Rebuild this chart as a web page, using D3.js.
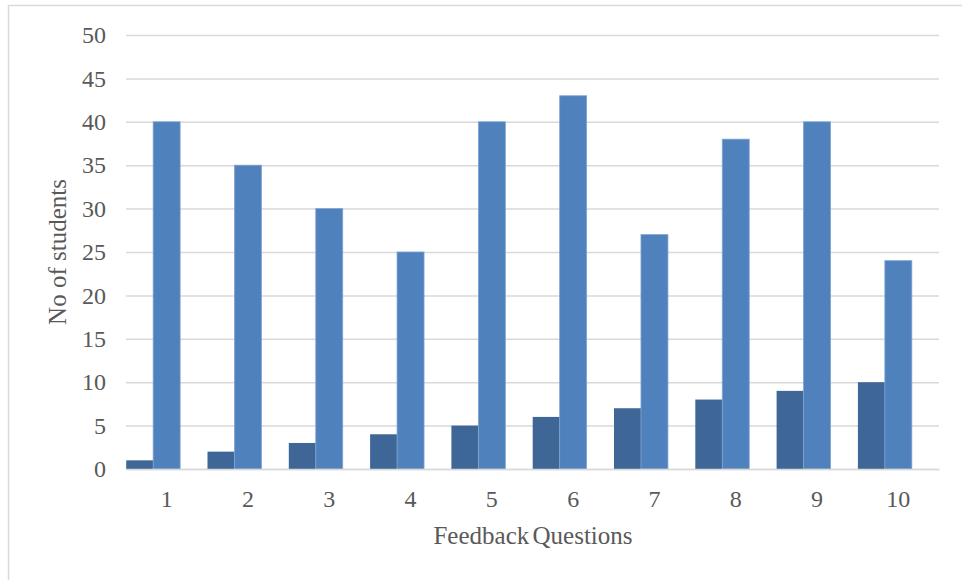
<!DOCTYPE html>
<html>
<head>
<meta charset="utf-8">
<script src="https://cdn.jsdelivr.net/npm/d3@7"></script>
<style>
  html, body { margin: 0; padding: 0; background: #fff; }
  svg { display: block; }
  text { font-family: "Liberation Serif", "DejaVu Serif", serif; fill: #595959; }
</style>
</head>
<body>
<svg id="chart" width="962" height="580"></svg>
<script>
// ---- data ----
const categories = ["1", "2", "3", "4", "5", "6", "7", "8", "9", "10"];
const seriesA = [1, 2, 3, 4, 5, 6, 7, 8, 9, 10];
const seriesB = [40, 35, 30, 25, 40, 43, 27, 38, 40, 24];
const yTicks = [0, 5, 10, 15, 20, 25, 30, 35, 40, 45, 50];
const xTitle = "Feedback Questions";
const yTitle = "No of students";

const svg = d3.select("#chart");
const W = 962, H = 580;
const m = { left: 126, right: 23, top: 35, bottom: 111 };

// chart border
svg.append("rect")
  .attr("x", 8.5).attr("y", 5.5)
  .attr("width", W + 10).attr("height", H + 10)
  .attr("fill", "#fff").attr("stroke", "#d9d9d9").attr("stroke-width", 1.5);

const x = d3.scaleBand().domain(categories).range([m.left, W - m.right]).paddingInner(0.005).paddingOuter(0.0025);
const sub = d3.scaleBand().domain(["a", "b", "c"]).range([0, x.bandwidth()]);
const y = d3.scaleLinear().domain([0, 50]).range([H - m.bottom, m.top]);

const fontTick = 24, fontTitle = 25;

// gridlines
const yAxis = d3.axisLeft(y).tickValues(yTicks).tickSize(-(W - m.right - m.left)).tickPadding(20);
const gy = svg.append("g").attr("transform", `translate(${m.left},0)`).call(yAxis);
gy.select(".domain").remove();
gy.selectAll(".tick line").attr("stroke", "#d9d9d9").attr("stroke-width", 1.5);
gy.selectAll(".tick text").attr("font-size", fontTick).attr("fill", "#595959")
  .style("font-family", '"Liberation Serif", serif');

// bars
const g = svg.append("g");
g.selectAll("rect.a").data(seriesA).join("rect")
  .attr("class", "a")
  .attr("x", (d, i) => x(categories[i]) + sub("a"))
  .attr("width", sub.bandwidth())
  .attr("y", d => y(d))
  .attr("height", d => y(0) - y(d))
  .attr("fill", "#3e6798");
g.selectAll("rect.b").data(seriesB).join("rect")
  .attr("class", "b")
  .attr("x", (d, i) => x(categories[i]) + sub("b"))
  .attr("width", sub.bandwidth())
  .attr("y", d => y(d))
  .attr("height", d => y(0) - y(d))
  .attr("fill", "#4f81bd")
  .attr("stroke", "#7ea3d2").attr("stroke-width", 0.8);

// x axis
const xAxis = d3.axisBottom(x).tickSize(0).tickPadding(21);
const gx = svg.append("g").attr("transform", `translate(0,${H - m.bottom})`).call(xAxis);
gx.select(".domain").attr("stroke", "#d9d9d9").attr("stroke-width", 1.5);
gx.selectAll(".tick text").attr("font-size", fontTick).attr("fill", "#595959")
  .style("font-family", '"Liberation Serif", serif');

// titles
svg.append("text")
  .attr("x", 533).attr("y", 544)
  .attr("text-anchor", "middle").attr("font-size", fontTitle)
  .attr("word-spacing", -3)
  .text(xTitle);
svg.append("text")
  .attr("transform", `translate(66,${252}) rotate(-90)`)
  .attr("text-anchor", "middle").attr("font-size", fontTitle)
  .text(yTitle);
</script>
</body>
</html>
